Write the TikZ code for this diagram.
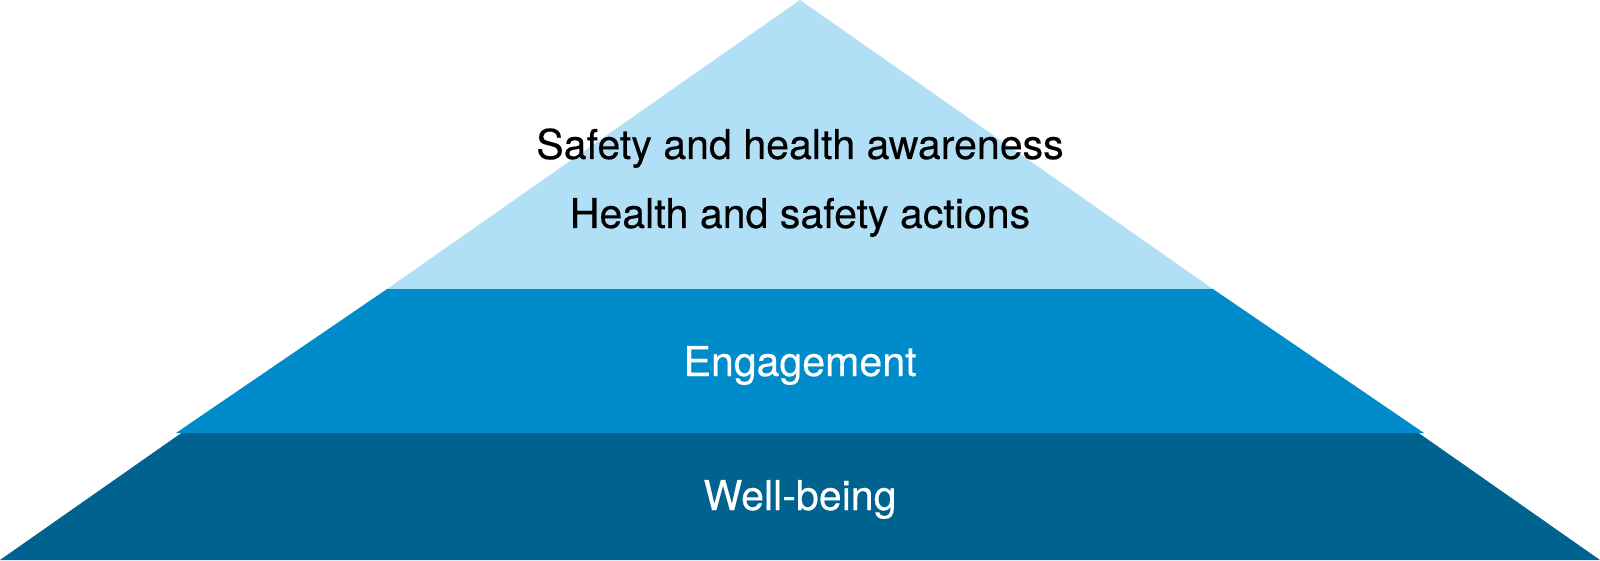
\documentclass[tikz,border=0pt]{standalone}
\usepackage{fontspec}
\setmainfont{TeX Gyre Heros}[FakeBold=0.35]
\usepackage{xcolor}
\definecolor{lightsky}{RGB}{176,223,246}
\definecolor{midblue}{RGB}{0,139,203}
\definecolor{deepblue}{RGB}{0,98,143}

\begin{document}
\begin{tikzpicture}[
    every node/.style={font=\fontsize{11.7}{13}\selectfont, anchor=base, inner sep=0pt},
    toplabel/.style={text=black},
    layerlabel/.style={text=white}]

\useasboundingbox (0,0) rectangle (16,5.6);

% Layers
\fill[deepblue] (0,0) -- (16,0) -- (14.186,1.27) -- (1.814,1.27) -- cycle;
\fill[midblue] (1.76,1.27) -- (14.24,1.27) -- (12.129,2.71) -- (3.871,2.71) -- cycle;
\fill[lightsky] (3.871,2.71) -- (12.129,2.71) -- (8,5.6) -- cycle;

% Labels
\node[toplabel] (awareness) at (8,4.01) {Safety and health awareness};
\node[toplabel] (actions) at (8,3.32) {Health and safety actions};
\node[layerlabel] (engagement) at (8,1.84) {Engagement};
\node[layerlabel] (wellbeing) at (8,0.5) {Well-being};

\end{tikzpicture}
\end{document}
